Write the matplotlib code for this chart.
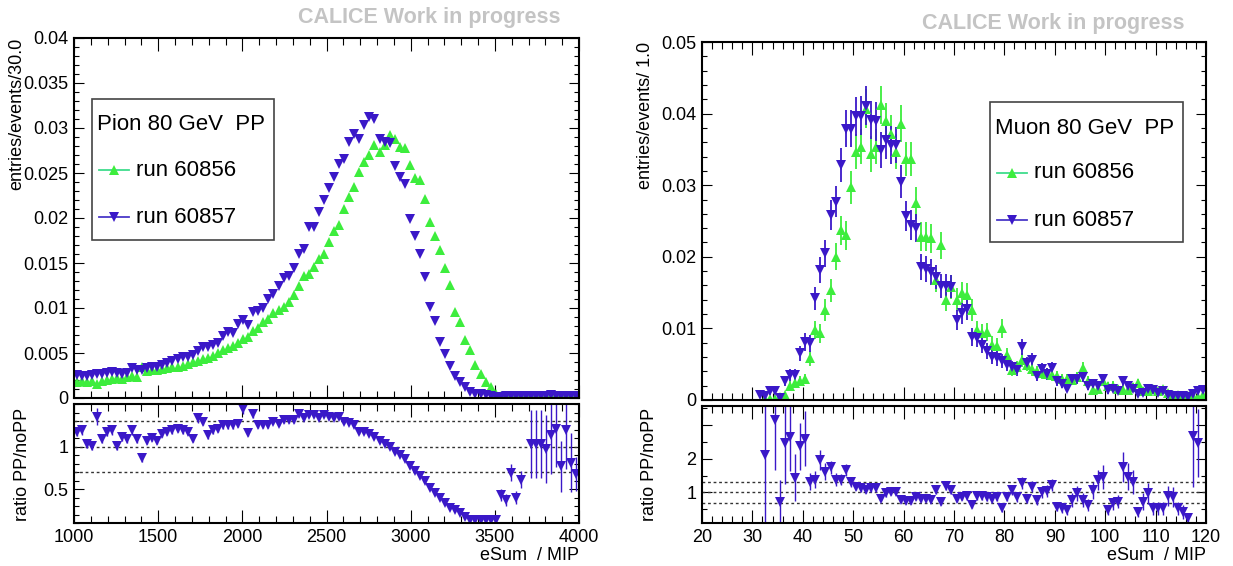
import numpy as np
import matplotlib
matplotlib.use("Agg")
import matplotlib.pyplot as plt
from matplotlib.ticker import MultipleLocator, FixedLocator, FuncFormatter
from matplotlib.patches import Rectangle
from matplotlib.lines import Line2D

plt.rcParams['font.family'] = ['Liberation Sans', 'DejaVu Sans']

# ---------------- pion 80 GeV, bins of 30 MIP from 1000 to 4000 ----------------
pion_centers = np.arange(1015, 4000, 30)
pion_run60856 = [
    0.0018, 0.0019, 0.0018, 0.0019, 0.0016, 0.0019, 0.0020, 0.0021, 0.0022, 0.0021,
    0.0023, 0.0024, 0.0023, 0.0035, 0.0030, 0.0031, 0.0031, 0.0032, 0.0033, 0.0034,
    0.0035, 0.0036, 0.0038, 0.0040, 0.0041, 0.0043, 0.0045, 0.0047, 0.0050, 0.0053,
    0.0056, 0.0058, 0.0061, 0.0066, 0.0068, 0.0074, 0.0078, 0.0084, 0.0088, 0.0095,
    0.0098, 0.0101, 0.0107, 0.0114, 0.0125, 0.0136, 0.0138, 0.0146, 0.0155, 0.0160,
    0.0173, 0.0186, 0.0192, 0.0210, 0.0223, 0.0234, 0.0251, 0.0262, 0.0270, 0.0281,
    0.0273, 0.0281, 0.0292, 0.0288, 0.0279, 0.0278, 0.0259, 0.0245, 0.0242, 0.0221,
    0.0196, 0.0180, 0.0164, 0.0145, 0.0126, 0.0096, 0.0085, 0.0064, 0.0053, 0.0037,
    0.0027, 0.0018, 0.0012, 0.0005, 0.0002, 0.0002, 0.0002, 0.0002, 0.0002, 0.0002,
    0.0002, 0.0002, 0.0002, 0.0002, 0.0002, 0.0002, 0.0002, 0.0002, 0.0002, 0.0002]
pion_run60857 = [
    0.0026, 0.0025, 0.0024, 0.0026, 0.0027, 0.0027, 0.0028, 0.0029, 0.0028, 0.0027,
    0.0028, 0.0033, 0.0031, 0.0031, 0.0033, 0.0035, 0.0034, 0.0037, 0.0039, 0.0041,
    0.0043, 0.0046, 0.0046, 0.0048, 0.0052, 0.0057, 0.0057, 0.0059, 0.0061, 0.0069,
    0.0073, 0.0072, 0.0082, 0.0087, 0.0081, 0.0096, 0.0097, 0.0100, 0.0110, 0.0116,
    0.0125, 0.0133, 0.0136, 0.0144, 0.0160, 0.0166, 0.0190, 0.0190, 0.0207, 0.0220,
    0.0233, 0.0246, 0.0260, 0.0266, 0.0284, 0.0293, 0.0288, 0.0303, 0.0312, 0.0310,
    0.0288, 0.0284, 0.0283, 0.0258, 0.0246, 0.0238, 0.0199, 0.0180, 0.0160, 0.0135,
    0.0101, 0.0086, 0.0062, 0.0049, 0.0036, 0.0025, 0.0018, 0.0012, 0.0007, 0.0005,
    0.0004, 0.0003, 0.0002, 0.0001, 0.0001, 0.0002, 0.0002, 0.0002, 0.0002, 0.0002,
    0.0002, 0.0002, 0.0002, 0.0002, 0.0003, 0.0002, 0.0002, 0.0002, 0.0002, 0.0002]
pion_ratio = [
    1.17, 1.19, 1.03, 1.01, 1.35, 1.09, 1.17, 1.19, 1.01, 1.11,
    1.09, 1.19, 1.09, 0.87, 1.07, 1.10, 1.07, 1.15, 1.17, 1.19,
    1.21, 1.19, 1.17, 1.09, 1.33, 1.29, 1.13, 1.19, 1.21, 1.25,
    1.25, 1.25, 1.27, 1.44, 1.16, 1.38, 1.25, 1.25, 1.25, 1.29,
    1.27, 1.31, 1.31, 1.31, 1.38, 1.33, 1.37, 1.37, 1.33, 1.37,
    1.35, 1.33, 1.35, 1.29, 1.28, 1.25, 1.17, 1.17, 1.15, 1.11,
    1.07, 1.03, 0.99, 0.93, 0.90, 0.85, 0.77, 0.71, 0.65, 0.59,
    0.51, 0.45, 0.39, 0.33, 0.28, 0.25, 0.22, 0.17, 0.14, 0.14,
    0.14, 0.14, 0.14, 0.14, 0.43, 0.37, 0.69, 0.40, 0.61, np.nan,
    1.03, 1.03, 1.03, 0.97, 1.13, 1.21, 0.77, 1.19, 0.81, 0.68]
pion_ratio_err = [
    0.05, 0.05, 0.05, 0.05, 0.10, 0.05, 0.05, 0.05, 0.05, 0.05,
    0.05, 0.05, 0.05, 0.05, 0.04, 0.04, 0.04, 0.04, 0.04, 0.04,
    0.04, 0.04, 0.04, 0.04, 0.05, 0.04, 0.04, 0.04, 0.04, 0.04,
    0.04, 0.04, 0.04, 0.06, 0.04, 0.05, 0.03, 0.03, 0.03, 0.03,
    0.03, 0.03, 0.03, 0.03, 0.03, 0.02, 0.02, 0.02, 0.02, 0.02,
    0.02, 0.02, 0.02, 0.02, 0.02, 0.02, 0.02, 0.02, 0.02, 0.02,
    0.02, 0.02, 0.02, 0.02, 0.02, 0.02, 0.02, 0.02, 0.02, 0.02,
    0.02, 0.02, 0.02, 0.02, 0.02, 0.02, 0.02, 0.02, 0.02, 0.02,
    0.02, 0.02, 0.02, 0.02, 0.07, 0.07, 0.10, 0.08, 0.10, np.nan,
    0.40, 0.40, 0.40, 0.40, 0.45, 0.45, 0.30, 0.45, 0.35, 0.20]

# ---------------- muon 80 GeV, bins of 1 MIP, 31..120 ----------------
muon_centers = np.arange(31.5, 120, 1.0)
muon_run60856 = [
    np.nan, 0.0001, 0.0001, 0.0002, 0.0004, 0.0007, 0.0020, 0.0024, 0.0026, 0.0029,
    0.0058, 0.0098, 0.0093, 0.0126, 0.0153, 0.0200, 0.0237, 0.0230, 0.0297, 0.0347,
    0.0354, 0.0407, 0.0344, 0.0354, 0.0412, 0.0389, 0.0372, 0.0347, 0.0386, 0.0337,
    0.0337, 0.0275, 0.0228, 0.0228, 0.0226, 0.0168, 0.0216, 0.0140, 0.0158, 0.0140,
    0.0149, 0.0147, 0.0126, 0.0098, 0.0093, 0.0095, 0.0077, 0.0075, 0.0100, 0.0063,
    0.0042, 0.0046, 0.0056, 0.0049, 0.0043, 0.0040, 0.0038, 0.0037, 0.0035, 0.0033,
    0.0030, 0.0030, 0.0028, 0.0032, 0.0044, 0.0026, 0.0014, 0.0016, 0.0026, 0.0019,
    0.0020, 0.0016, 0.0014, 0.0014, 0.0018, 0.0024, 0.0013, 0.0012, 0.0016, 0.0012,
    0.0015, 0.0010, 0.0007, 0.0007, 0.0005, 0.0006, 0.0005, 0.0004, 0.0007]
muon_run60856_err = [
    np.nan, 0.0001, 0.0001, 0.0002, 0.0003, 0.0004, 0.0006, 0.0007, 0.0007, 0.0007,
    0.0010, 0.0013, 0.0013, 0.0015, 0.0016, 0.0019, 0.0020, 0.0020, 0.0023, 0.0025,
    0.0025, 0.0027, 0.0025, 0.0025, 0.0027, 0.0026, 0.0026, 0.0025, 0.0026, 0.0024,
    0.0024, 0.0022, 0.0020, 0.0020, 0.0020, 0.0017, 0.0019, 0.0016, 0.0017, 0.0016,
    0.0016, 0.0016, 0.0015, 0.0013, 0.0013, 0.0013, 0.0012, 0.0011, 0.0013, 0.0010,
    0.0009, 0.0009, 0.0010, 0.0009, 0.0009, 0.0008, 0.0008, 0.0008, 0.0008, 0.0008,
    0.0007, 0.0007, 0.0007, 0.0007, 0.0009, 0.0007, 0.0005, 0.0005, 0.0007, 0.0006,
    0.0006, 0.0005, 0.0005, 0.0005, 0.0006, 0.0006, 0.0005, 0.0004, 0.0005, 0.0004,
    0.0005, 0.0004, 0.0003, 0.0003, 0.0003, 0.0003, 0.0003, 0.0003, 0.0003]
muon_run60857 = [
    0.0007, 0.0005, 0.0012, 0.0013, 0.0003, 0.0026, 0.0035, 0.0035, 0.0065, 0.0081,
    0.0079, 0.0142, 0.0182, 0.0205, 0.0258, 0.0277, 0.0328, 0.0379, 0.0379, 0.0396,
    0.0397, 0.0411, 0.0391, 0.0389, 0.0349, 0.0363, 0.0356, 0.0356, 0.0305, 0.0257,
    0.0244, 0.0240, 0.0186, 0.0183, 0.0179, 0.0172, 0.0159, 0.0159, 0.0158, 0.0112,
    0.0121, 0.0127, 0.0088, 0.0086, 0.0077, 0.0068, 0.0060, 0.0058, 0.0054, 0.0049,
    0.0046, 0.0042, 0.0074, 0.0051, 0.0056, 0.0033, 0.0043, 0.0036, 0.0044, 0.0026,
    0.0023, 0.0016, 0.0030, 0.0030, 0.0032, 0.0020, 0.0023, 0.0020, 0.0030, 0.0014,
    0.0016, 0.0012, 0.0026, 0.0019, 0.0016, 0.0009, 0.0010, 0.0016, 0.0014, 0.0010,
    0.0012, 0.0007, 0.0006, 0.0005, 0.0005, 0.0004, 0.0009, 0.0012, 0.0014]
muon_run60857_err = [
    0.0003, 0.0003, 0.0005, 0.0005, 0.0002, 0.0007, 0.0008, 0.0008, 0.0011, 0.0012,
    0.0012, 0.0016, 0.0018, 0.0019, 0.0021, 0.0022, 0.0024, 0.0026, 0.0026, 0.0027,
    0.0027, 0.0027, 0.0027, 0.0027, 0.0025, 0.0026, 0.0026, 0.0025, 0.0023, 0.0021,
    0.0021, 0.0020, 0.0018, 0.0018, 0.0018, 0.0017, 0.0017, 0.0017, 0.0016, 0.0014,
    0.0015, 0.0015, 0.0012, 0.0012, 0.0012, 0.0011, 0.0010, 0.0010, 0.0010, 0.0009,
    0.0009, 0.0009, 0.0011, 0.0009, 0.0010, 0.0007, 0.0009, 0.0008, 0.0009, 0.0007,
    0.0006, 0.0005, 0.0007, 0.0007, 0.0007, 0.0006, 0.0006, 0.0006, 0.0007, 0.0005,
    0.0005, 0.0004, 0.0007, 0.0006, 0.0005, 0.0004, 0.0004, 0.0005, 0.0005, 0.0004,
    0.0004, 0.0003, 0.0003, 0.0003, 0.0003, 0.0003, 0.0004, 0.0005, 0.0005]
muon_ratio = [
    np.nan, 2.10, np.nan, 3.15, 0.73, 2.46, 2.64, 1.44, 2.36, 2.59,
    1.31, 1.38, 1.95, 1.61, 1.74, 1.38, 1.38, 1.66, 1.31, 1.17,
    1.12, 1.07, 1.12, 1.12, 0.82, 0.97, 1.02, 1.02, 0.77, 0.75,
    0.75, 0.87, 0.82, 0.82, 0.79, 1.07, 0.73, 1.19, 1.07, 0.82,
    0.87, 0.89, 0.63, 0.89, 0.89, 0.87, 0.82, 0.87, 0.53, 0.87,
    1.07, 0.87, 1.28, 0.82, 1.17, 0.77, 1.02, 1.05, 1.22, 0.58,
    0.53, 0.48, 0.77, 0.97, 0.77, 0.63, 1.07, 1.36, 1.46, 0.48,
    0.68, 0.73, 1.75, 1.46, 1.31, 0.43, 0.73, 0.97, 0.53, 0.53,
    0.53, 0.89, 0.87, 0.53, 0.43, 0.24, 2.66, 2.46, np.nan]
muon_ratio_err = [
    np.nan, 2.00, np.nan, 1.50, 0.65, 1.20, 1.00, 0.70, 0.70, 0.80,
    0.25, 0.25, 0.30, 0.25, 0.20, 0.18, 0.17, 0.17, 0.14, 0.10,
    0.10, 0.10, 0.10, 0.10, 0.08, 0.09, 0.09, 0.09, 0.08, 0.08,
    0.08, 0.09, 0.09, 0.09, 0.09, 0.11, 0.09, 0.12, 0.11, 0.10,
    0.10, 0.10, 0.09, 0.11, 0.11, 0.11, 0.12, 0.12, 0.10, 0.13,
    0.15, 0.14, 0.17, 0.14, 0.16, 0.14, 0.17, 0.17, 0.19, 0.14,
    0.14, 0.14, 0.20, 0.22, 0.20, 0.18, 0.25, 0.30, 0.35, 0.15,
    0.20, 0.20, 0.45, 0.40, 0.35, 0.15, 0.25, 0.30, 0.20, 0.20,
    0.20, 0.30, 0.30, 0.20, 0.20, 0.15, 1.50, 1.00, np.nan]

GREEN = '#3ded3d'
BLUE = '#3a18c8'
W, H = 1233, 566

def box(l, t, r, b):
    # pixel box (from top-left) -> figure fraction rect
    return [l / W, 1 - b / H, (r - l) / W, (b - t) / H]

def fmt(v, pos):
    return '%g' % round(v, 6)

def style(ax, xmajor, xminor, ymajor, yminor, xlen=9.5, ylen=7.5):
    ax.tick_params(which='both', direction='in', top=True, right=True, width=0.8, labelsize=13, pad=4)
    ax.tick_params(axis='x', which='major', length=xlen)
    ax.tick_params(axis='x', which='minor', length=xlen / 2)
    ax.tick_params(axis='y', which='major', length=ylen)
    ax.tick_params(axis='y', which='minor', length=ylen / 2)
    ax.xaxis.set_major_locator(MultipleLocator(xmajor))
    ax.xaxis.set_minor_locator(MultipleLocator(xminor))
    ax.yaxis.set_major_locator(ymajor)
    ax.yaxis.set_minor_locator(MultipleLocator(yminor))
    ax.yaxis.set_major_formatter(FuncFormatter(fmt))
    for s in ax.spines.values():
        s.set_linewidth(1.5)

fig = plt.figure(figsize=(W / 100, H / 100), dpi=100)

panels = [
    dict(main=box(74, 38, 579, 398), ratio=box(74, 404, 579, 523),
         x=pion_centers, g=pion_run60856, b=pion_run60857, gerr=None, berr=None,
         r=pion_ratio, rerr=pion_ratio_err, xlim=(1000, 4000), ylim=(0, 0.04),
         rlim=(0.1, 1.5), xmaj=500, xmin=100, ymaj=0.005, ymin=0.001,
         rticks=[0.5, 1.0], rlabels=['0.5', '1'], rmin=0.1,
         ylabel='entries/events/30.0', ylab_x=17, ylab_top=38, rlab_x=23,
         title='Pion 80 GeV  PP', leg=(92, 99, 274, 240), calice=(561, 18)),
    dict(main=box(702, 42, 1206, 400), ratio=box(702, 406, 1206, 523),
         x=muon_centers, g=muon_run60856, b=muon_run60857, gerr=muon_run60856_err,
         berr=muon_run60857_err, r=muon_ratio, rerr=muon_ratio_err, xlim=(20, 120),
         ylim=(0, 0.05), rlim=(0.1, 3.55), xmaj=10, xmin=2, ymaj=0.01, ymin=0.002,
         rticks=[1, 2, 3], rlabels=['1', '2', ''], rmin=0.5,
         ylabel='entries/events/ 1.0', ylab_x=645, ylab_top=42, rlab_x=650,
         title='Muon 80 GeV  PP', leg=(990, 102, 1183, 242), calice=(1185, 23)),
]

for p in panels:
    ax = fig.add_axes(p['main'])
    rax = fig.add_axes(p['ratio'])

    # the two runs
    if p['gerr'] is None:
        ax.plot(p['x'], p['g'], '^', color=GREEN, ms=6.5, mew=0)
        ax.plot(p['x'], p['b'], 'v', color=BLUE, ms=6.5, mew=0)
    else:
        ax.errorbar(p['x'], p['g'], yerr=p['gerr'], fmt='^', color=GREEN, ms=6.5, mew=0,
                    elinewidth=1.3, capsize=0)
        ax.errorbar(p['x'], p['b'], yerr=p['berr'], fmt='v', color=BLUE, ms=6.5, mew=0,
                    elinewidth=1.3, capsize=0)
    ax.set_xlim(*p['xlim'])
    ax.set_ylim(*p['ylim'])
    style(ax, p['xmaj'], p['xmin'], MultipleLocator(p['ymaj']), p['ymin'])
    ax.tick_params(labelbottom=False)

    # ratio PP / noPP
    for lvl in (0.7, 1.0, 1.3):
        rax.axhline(lvl, color='#333333', lw=1.0, ls=(0, (2, 2)))
    rax.errorbar(p['x'], p['r'], yerr=p['rerr'], fmt='v', color=BLUE, ms=6.5, mew=0,
                 elinewidth=1.0, capsize=1.5, capthick=1.0)
    rax.set_xlim(*p['xlim'])
    rax.set_ylim(*p['rlim'])
    style(rax, p['xmaj'], p['xmin'], FixedLocator(p['rticks']), p['rmin'])
    rax.set_yticklabels(p['rlabels'])
    rax.xaxis.set_major_formatter(FuncFormatter(fmt))

    # axis titles in ROOT placement
    fig.text(p['ylab_x'] / W, 1 - p['ylab_top'] / H, p['ylabel'], rotation=90,
             ha='center', va='top', fontsize=13)
    fig.text(p['rlab_x'] / W, 1 - 464 / H, 'ratio PP/noPP', rotation=90,
             ha='center', va='center', fontsize=13)
    r = p['main'][0] + p['main'][2]
    fig.text(r, 1 - 555 / H, 'eSum  / MIP', ha='right', va='center', fontsize=13)
    fig.text(p['calice'][0] / W, 1 - p['calice'][1] / H, 'CALICE Work in progress',
             ha='right', va='center', fontsize=15.5, fontweight='bold', color='#c4c4c4')

    # legend box drawn like the ROOT TLegend
    l, t, rr, b = p['leg']
    fig.patches.append(Rectangle((l / W, 1 - b / H), (rr - l) / W, (b - t) / H,
                                 transform=fig.transFigure, fill=False,
                                 edgecolor='#444444', lw=1.2))
    fig.text((l + 5) / W, 1 - (t + 26) / H, p['title'], ha='left', va='center', fontsize=16)
    for row, (lab, col, lcol, mk) in enumerate([('run 60856', GREEN, '#3fdc8c', '^'),
                                                ('run 60857', BLUE, '#4a38c8', 'v')]):
        yy = 1 - (t + 71 + 47 * row) / H
        fig.add_artist(Line2D([(l + 7) / W, (l + 37) / W], [yy, yy], color=lcol, lw=1.3,
                              transform=fig.transFigure))
        fig.add_artist(Line2D([(l + 22) / W], [yy], marker=mk, color=col, ms=6.5, mew=0,
                              transform=fig.transFigure))
        fig.text((l + 44) / W, yy, lab, ha='left', va='center', fontsize=16)

fig.savefig('out.png', dpi=100)
